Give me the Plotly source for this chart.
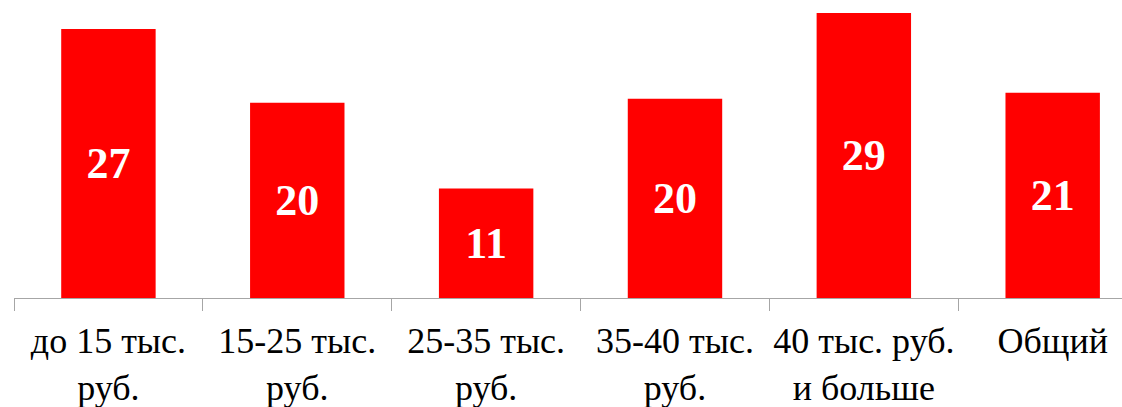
import plotly.graph_objects as go

categories = ["до 15 тыс.<br>руб.", "15-25 тыс.<br>руб.", "25-35 тыс.<br>руб.",
              "35-40 тыс.<br>руб.", "40 тыс. руб.<br>и больше", "Общий"]
values = [27.0, 19.6, 11.0, 20.0, 28.6, 20.6]

SERIF = "'Liberation Serif', 'Times New Roman', serif"

fig = go.Figure(go.Bar(
    x=categories, y=values, width=0.5,
    marker=dict(color="#FF0000", line=dict(width=0)),
    texttemplate="%{y:.0f}", textposition="inside", insidetextanchor="middle",
    textangle=0,
    textfont=dict(family=SERIF, size=44, color="white", weight="bold"),
))

fig.update_layout(
    width=1122, height=407,
    margin=dict(l=14, r=0, t=0, b=109, autoexpand=False),
    paper_bgcolor="white", plot_bgcolor="white",
    showlegend=False,
    uniformtext=dict(mode=False),
    xaxis=dict(
        type="category", range=[-0.5, 5.367], automargin=False,
        showline=True, linecolor="#A6A6A6", linewidth=1,
        ticks="outside", tickson="boundaries", ticklen=12, tickcolor="#A6A6A6", tickwidth=1,
        ticklabelstandoff=11, tickangle=0,
        showgrid=False,
        tickfont=dict(family=SERIF, size=36, color="black"),
    ),
    yaxis=dict(range=[0, 29.91], visible=False, showgrid=False, zeroline=False, automargin=False),
)

fig.write_html("out.html", config={"displayModeBar": False},
               post_script="document.body.style.margin='0';document.body.style.overflow='hidden';")
